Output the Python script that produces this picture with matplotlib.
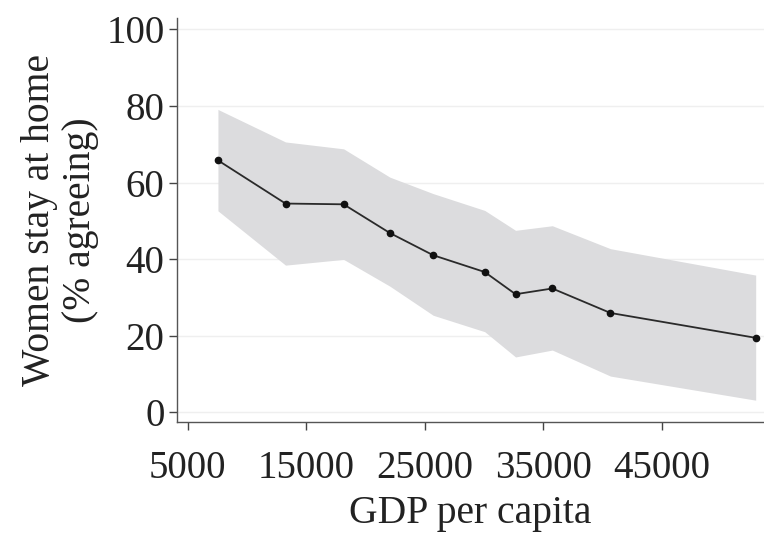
import numpy as np
import matplotlib
matplotlib.use("Agg")
import matplotlib.pyplot as plt

# values
gdp = [7550, 13250, 18150, 22050, 25700, 30050, 32650, 35750, 40650, 52900]
agree = [65.8, 54.5, 54.3, 46.8, 41.0, 36.6, 30.8, 32.3, 25.9, 19.4]
upper = [79.1, 70.6, 68.8, 61.4, 57.1, 52.7, 47.5, 48.7, 42.7, 35.8]
lower = [52.6, 38.4, 39.9, 32.9, 25.3, 21.0, 14.4, 16.2, 9.4, 3.1]
xticks = [5000, 15000, 25000, 35000, 45000]
yticks = [0, 20, 40, 60, 80, 100]

plt.rcParams['font.family'] = ['Liberation Serif', 'DejaVu Serif']

fig = plt.figure(figsize=(7.64, 5.36), dpi=100)
ax = fig.add_axes([0.2317, 0.2127, 0.7683, 0.753])

for y in yticks:
    ax.axhline(y, color='#efefef', lw=1.0, zorder=0)

ax.fill_between(gdp, lower, upper, color='#dcdcde', lw=0, zorder=1)
ax.plot(gdp, agree, color='#2a2a2a', lw=1.3, marker='o', markersize=4.5,
        markerfacecolor='#111111', markeredgecolor='#111111', zorder=3)

ax.set_xlim(4100, 53600)
ax.set_ylim(-2.6, 102.9)
ax.set_xticks(xticks)
ax.set_yticks(yticks)
ax.tick_params(axis='both', labelsize=28, colors='#444444', labelcolor='#222222',
               length=6, width=1.0, direction='out')
ax.tick_params(axis='x', pad=14)
ax.tick_params(axis='y', pad=3)

for s in ['top', 'right']:
    ax.spines[s].set_visible(False)
for s in ['left', 'bottom']:
    ax.spines[s].set_color('#555555')
    ax.spines[s].set_linewidth(1.0)

ax.set_xlabel('GDP per capita', fontsize=28.5, color='#222222', labelpad=6)
ax.set_ylabel('Women stay at home\n(% agreeing)', fontsize=28.5, color='#222222',
              labelpad=5, linespacing=1.15)

fig.savefig('out.png', dpi=100)
